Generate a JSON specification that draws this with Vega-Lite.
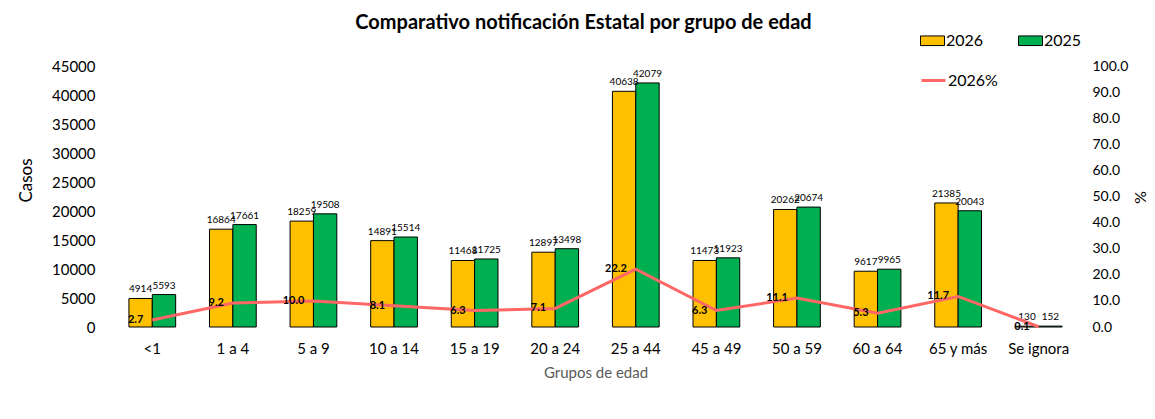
{
  "$schema": "https://vega.github.io/schema/vega-lite/v6.json",
  "width": 967,
  "height": 261,
  "autosize": {"type": "none"},
  "padding": {"left": 112, "top": 66, "right": 76, "bottom": 92},
  "background": "white",
  "config": {
    "font": "Lato",
    "view": {"stroke": null},
    "axis": {"grid": false, "ticks": false, "domain": false, "labelFont": "Lato", "titleFont": "Lato", "labelColor": "#000000", "titleColor": "#000000"}
  },
  "title": {"text": "Comparativo notificación Estatal por grupo de edad", "font": "Lato", "fontSize": 20, "fontWeight": "bold", "anchor": "middle", "dx": -12, "dy": 9, "color": "#000000"},
  "datasets": {
    "bars": [
      {"grupo": "<1", "anio": "2026", "casos": 4914},
      {"grupo": "<1", "anio": "2025", "casos": 5593},
      {"grupo": "1 a 4", "anio": "2026", "casos": 16864},
      {"grupo": "1 a 4", "anio": "2025", "casos": 17661},
      {"grupo": "5 a 9", "anio": "2026", "casos": 18259},
      {"grupo": "5 a 9", "anio": "2025", "casos": 19508},
      {"grupo": "10 a 14", "anio": "2026", "casos": 14891},
      {"grupo": "10 a 14", "anio": "2025", "casos": 15514},
      {"grupo": "15 a 19", "anio": "2026", "casos": 11468},
      {"grupo": "15 a 19", "anio": "2025", "casos": 11725},
      {"grupo": "20 a 24", "anio": "2026", "casos": 12897},
      {"grupo": "20 a 24", "anio": "2025", "casos": 13498},
      {"grupo": "25 a 44", "anio": "2026", "casos": 40638},
      {"grupo": "25 a 44", "anio": "2025", "casos": 42079},
      {"grupo": "45 a 49", "anio": "2026", "casos": 11473},
      {"grupo": "45 a 49", "anio": "2025", "casos": 11923},
      {"grupo": "50 a 59", "anio": "2026", "casos": 20262},
      {"grupo": "50 a 59", "anio": "2025", "casos": 20674},
      {"grupo": "60 a 64", "anio": "2026", "casos": 9617},
      {"grupo": "60 a 64", "anio": "2025", "casos": 9965},
      {"grupo": "65 y más", "anio": "2026", "casos": 21385},
      {"grupo": "65 y más", "anio": "2025", "casos": 20043},
      {"grupo": "Se ignora", "anio": "2026", "casos": 130},
      {"grupo": "Se ignora", "anio": "2025", "casos": 152}
    ],
    "pct": [
      {"grupo": "<1", "serie": "2026%", "pct": 2.7},
      {"grupo": "1 a 4", "serie": "2026%", "pct": 9.2},
      {"grupo": "5 a 9", "serie": "2026%", "pct": 10.0},
      {"grupo": "10 a 14", "serie": "2026%", "pct": 8.1},
      {"grupo": "15 a 19", "serie": "2026%", "pct": 6.3},
      {"grupo": "20 a 24", "serie": "2026%", "pct": 7.1},
      {"grupo": "25 a 44", "serie": "2026%", "pct": 22.2},
      {"grupo": "45 a 49", "serie": "2026%", "pct": 6.3},
      {"grupo": "50 a 59", "serie": "2026%", "pct": 11.1},
      {"grupo": "60 a 64", "serie": "2026%", "pct": 5.3},
      {"grupo": "65 y más", "serie": "2026%", "pct": 11.7},
      {"grupo": "Se ignora", "serie": "2026%", "pct": 0.1}
    ]
  },
  "encoding": {
    "x": {
      "field": "grupo", "type": "nominal", "sort": null,
      "scale": {"domain": ["<1", "1 a 4", "5 a 9", "10 a 14", "15 a 19", "20 a 24", "25 a 44", "45 a 49", "50 a 59", "60 a 64", "65 y más", "Se ignora"], "paddingInner": 0.42, "paddingOuter": 0.21},
      "axis": {"title": "Grupos de edad", "titleFontSize": 15, "titleFontWeight": "normal", "titleColor": "#595959", "titlePadding": 9, "labelAngle": 0, "labelFontSize": 15, "labelPadding": 14}
    }
  },
  "layer": [
    {
      "data": {"name": "bars"},
      "encoding": {
        "xOffset": {"field": "anio", "type": "nominal", "scale": {"domain": ["2026", "2025"], "paddingInner": 0}},
        "y": {"field": "casos", "type": "quantitative", "scale": {"domain": [0, 45000], "nice": false}, "axis": {"title": "Casos", "titleFontSize": 17, "titleFontWeight": "normal", "titleX": -77, "titleY": 114, "values": [0, 5000, 10000, 15000, 20000, 25000, 30000, 35000, 40000, 45000], "format": "d", "labelFontSize": 15, "labelPadding": 17}}
      },
      "layer": [
        {
          "mark": {"type": "bar", "stroke": "#000000", "strokeWidth": 1},
          "encoding": {
            "fill": {"field": "anio", "type": "nominal", "scale": {"domain": ["2026", "2025"], "range": ["#FFC000", "#00B050"]},
              "legend": {"title": null, "orient": "none", "legendX": 808, "legendY": -38, "direction": "horizontal", "symbolType": "M-1,-0.4H1V0.4H-1Z", "symbolSize": 576, "symbolStrokeColor": "#000000", "symbolStrokeWidth": 1, "labelFontSize": 16, "labelFont": "Lato", "labelOffset": 1, "columnPadding": 32}}
          }
        },
        {
          "mark": {"type": "text", "baseline": "bottom", "dy": -4, "fontSize": 10, "font": "Lato", "color": "#000000"},
          "encoding": {"text": {"field": "casos", "type": "quantitative", "format": "d"}}
        }
      ]
    },
    {
      "data": {"name": "pct"},
      "encoding": {
        "y": {"field": "pct", "type": "quantitative", "scale": {"domain": [0, 100], "nice": false}, "axis": {"orient": "right", "title": "%", "titleFontSize": 16, "titleFontWeight": "normal", "titleX": 52, "titleY": 131, "values": [0, 10, 20, 30, 40, 50, 60, 70, 80, 90, 100], "format": ".1f", "labelFontSize": 14, "labelPadding": 13}}
      },
      "layer": [
        {
          "mark": {"type": "line", "strokeWidth": 3},
          "encoding": {
            "stroke": {"field": "serie", "type": "nominal", "scale": {"domain": ["2026%"], "range": ["#FF6666"]},
              "legend": {"title": null, "orient": "none", "legendX": 808, "legendY": 1, "symbolType": "stroke", "symbolSize": 576, "symbolStrokeWidth": 3, "labelFontSize": 16, "labelFont": "Lato", "labelOffset": 1}}
          }
        },
        {
          "mark": {"type": "text", "align": "right", "baseline": "middle", "dx": -9, "fontSize": 11, "fontWeight": "bold", "font": "Lato", "color": "#000000"},
          "encoding": {"text": {"field": "pct", "type": "quantitative", "format": ".1f"}}
        }
      ]
    }
  ],
  "resolve": {"scale": {"y": "independent"}}
}
